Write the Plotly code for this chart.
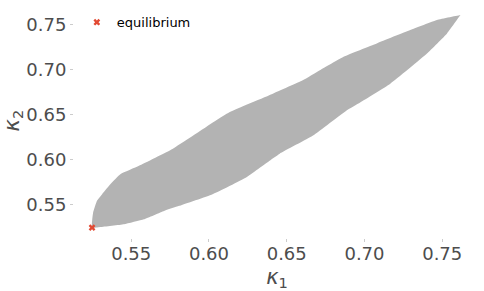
import plotly.graph_objects as go

# Upper boundary of the region (from equilibrium to the tip)
upper_x = [0.5248, 0.5255, 0.5280, 0.5313, 0.5367, 0.5432, 0.5550, 0.5765, 0.6045, 0.6131,
           0.6411, 0.6603, 0.6713, 0.6863, 0.7079, 0.7294, 0.7466, 0.7617]
upper_y = [0.5247, 0.5414, 0.5545, 0.5619, 0.5731, 0.5843, 0.5935, 0.6122, 0.6438, 0.6530,
           0.6736, 0.6884, 0.6996, 0.7144, 0.7294, 0.7442, 0.7554, 0.7609]
# Lower boundary (from equilibrium to the tip)
lower_x = [0.5248, 0.5302, 0.5453, 0.5582, 0.5711, 0.5808, 0.6023, 0.6239, 0.6390, 0.6455,
           0.6669, 0.6885, 0.6972, 0.7166, 0.7402, 0.7531, 0.7617]
lower_y = [0.5247, 0.5254, 0.5285, 0.5340, 0.5433, 0.5489, 0.5619, 0.5805, 0.5991, 0.6069,
           0.6270, 0.6549, 0.6638, 0.6847, 0.7182, 0.7405, 0.7609]

eq_x = [0.5248]
eq_y = [0.5247]

tick_vals = [0.55, 0.60, 0.65, 0.70, 0.75]
tick_text = ["0.55", "0.60", "0.65", "0.70", "0.75"]

poly_x = upper_x + lower_x[::-1]
poly_y = upper_y + lower_y[::-1]

fig = go.Figure()
fig.add_trace(go.Scatter(x=poly_x, y=poly_y, fill="toself", mode="lines",
                         line=dict(width=0, color="#b3b3b3", shape="spline", smoothing=0.4),
                         fillcolor="#b3b3b3",
                         showlegend=False, hoverinfo="skip"))
fig.add_trace(go.Scatter(x=eq_x, y=eq_y, mode="markers", name="equilibrium",
                         marker=dict(symbol="x", size=6, color="#E24A33",
                                     line=dict(width=0))))

axis_common = dict(showgrid=False, zeroline=False, showline=False, automargin=False,
                   ticks="outside", ticklen=3, tickwidth=1, tickcolor="#cccccc",
                   tickvals=tick_vals, ticktext=tick_text,
                   tickfont=dict(family="DejaVu Sans", size=18, color="#4d4d4d"))

fig.update_layout(
    width=484, height=291,
    margin=dict(l=74, r=4, t=3, b=53, autoexpand=False),
    paper_bgcolor="white", plot_bgcolor="white",
    font=dict(family="DejaVu Sans"),
    xaxis=dict(range=[0.5132, 0.7743], ticklabelstandoff=-4,
               title=dict(text="<i>κ</i><sub>1</sub>", standoff=7,
                          font=dict(family="DejaVu Sans", size=21, color="#4d4d4d")),
               **axis_common),
    yaxis=dict(range=[0.5132, 0.7743],
               title=dict(text="<i>κ</i><sub>2</sub>", standoff=4,
                          font=dict(family="DejaVu Sans", size=21, color="#4d4d4d")),
               **axis_common),
    legend=dict(x=0.007, y=0.982, xanchor="left", yanchor="top",
                bgcolor="rgba(0,0,0,0)",
                font=dict(family="DejaVu Sans", size=13, color="black")),
    showlegend=True,
)

fig.write_html("out.html", config={"displayModeBar": False},
               post_script="document.body.style.margin='0';document.body.style.overflow='hidden';")
